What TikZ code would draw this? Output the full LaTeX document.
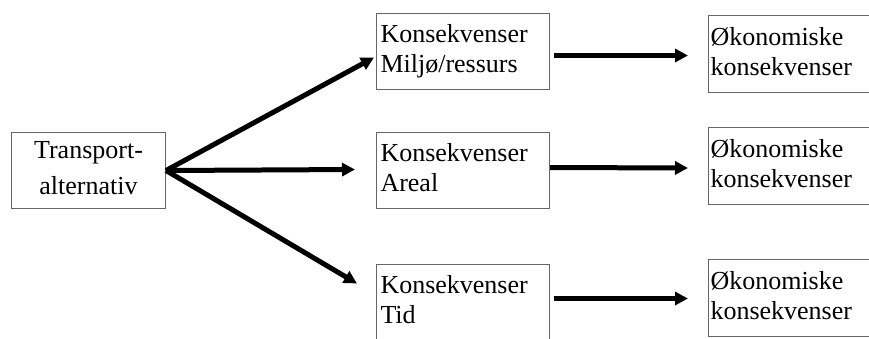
\documentclass[tikz,border=0pt]{standalone}
\usepackage{fontspec}
\setmainfont{Liberation Serif}
\usetikzlibrary{arrows.meta,calc}
\begin{document}
\begin{tikzpicture}[x=1pt,y=-1pt,
  box/.style={draw=black!60, line width=1pt, rectangle, anchor=north west, inner ysep=0pt, font=\fontsize{26}{30}\selectfont, align=left},
  midbox/.style={box, minimum width=173pt, minimum height=76pt, inner xsep=4pt, text width=165pt},
  econbox/.style={box, minimum width=180pt, minimum height=77pt, inner xsep=2pt, text width=176pt},
  arr/.style={line width=5pt, -{Triangle[length=13pt,width=13pt]}}]
\useasboundingbox (0,0) rectangle (869,338);
\clip (0,0) rectangle (869,338);
\node[box, minimum width=154pt, minimum height=76pt, align=center, font=\fontsize{26}{36}\selectfont, text width=146pt, inner xsep=4pt] (T) at (11,132) {Transport-\\alternativ\vphantom{g}};
\node[midbox] (M1) at (376,13) {Konsekvenser\\Miljø/ressurs};
\node[midbox] (A2) at (376,132) {Konsekvenser\\Areal\vphantom{g}};
\node[midbox] (T3) at (376,264) {Konsekvenser\\Tid\vphantom{g}};
\node[econbox] (E1) at (708,15) {Økonomiske\\konsekvenser\vphantom{g}};
\node[econbox] (E2) at (708,127) {Økonomiske\\konsekvenser\vphantom{g}};
\node[econbox] (E3) at (708,259) {Økonomiske\\konsekvenser\vphantom{g}};
\draw[arr] (T.east) -- ($(M1.west)+(-2,6)$);
\draw[arr] (T.east) -- ($(A2.west)+(-21,-1)$);
\draw[arr] (T.east) -- ($(T3.west)+(-19,-19)$);
\draw[arr] ($(M1.east)+(4,4)$) -- ($(E1.west)+(-20,1.5)$);
\draw[arr] ($(A2.east)+(0,-3)$) -- ($(E2.west)+(-20,2)$);
\draw[arr] ($(T3.east)+(4,-4)$) -- ($(E3.west)+(-20,0.5)$);
\end{tikzpicture}
\end{document}
